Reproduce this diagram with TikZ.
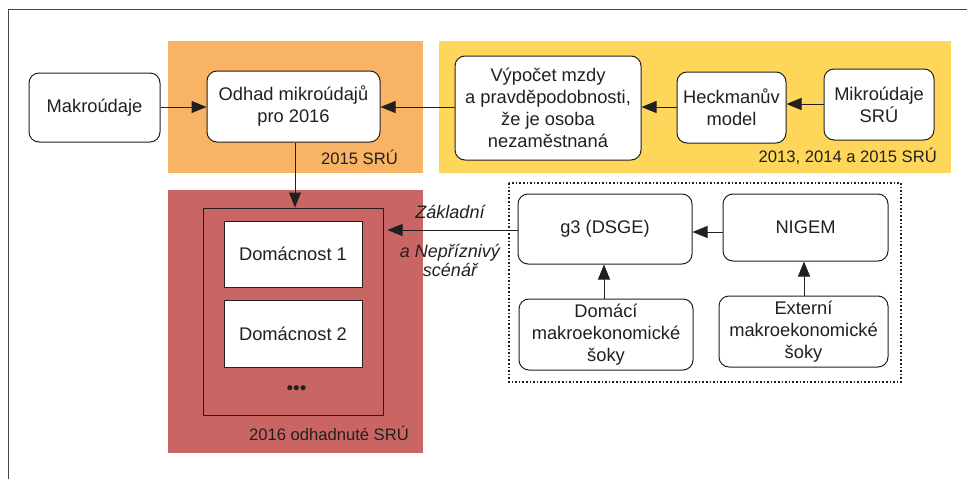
\documentclass[tikz,border=0pt]{standalone}
\usepackage{fontspec}
\setmainfont{Liberation Sans}
\usetikzlibrary{arrows.meta}
\definecolor{regorange}{RGB}{248,179,100}
\definecolor{regyellow}{RGB}{253,214,90}
\definecolor{regred}{RGB}{201,102,100}
\definecolor{lineclr}{RGB}{35,31,32}
\definecolor{frameclr}{RGB}{70,70,70}
\tikzset{
  x=1pt, y=-1pt,
  rbox/.style={draw=lineclr, line width=1pt, rounded corners=10pt, fill=white, align=center,
    inner sep=0pt, font=\fontsize{18.3}{22}\selectfont, text=lineclr},
  sbox/.style={draw=lineclr, line width=0.9pt, fill=white, align=center,
    inner sep=0pt, font=\fontsize{18.3}{22}\selectfont, text=lineclr},
  reglabel/.style={font=\fontsize{16.6}{20}\selectfont, text=lineclr, inner sep=0pt, anchor=east},
  conn/.style={draw=lineclr, line width=1pt, -{Triangle[length=15pt,width=12pt]}},
  scen/.style={font=\fontsize{18}{19.5}\selectfont\itshape, text=lineclr, inner sep=0pt, align=center},
}
\begin{document}
\begin{tikzpicture}
\useasboundingbox (0,0) rectangle (967,479);
% outer frame (partly visible)
\draw[frameclr, line width=1.8pt] (8.5,479) -- (8.5,9.5) -- (967,9.5);
% regions
\fill[regorange] (168,41) rectangle (423,173);
\fill[regyellow] (439,41) rectangle (951,173);
\fill[regred] (168,190) rectangle (423,453);
\node[reglabel] (l2015) at (398,157) {2015 SRÚ};
\node[reglabel] (l2013) at (937,156) {2013, 2014 a 2015 SRÚ};
\node[reglabel] (l2016) at (409,433) {2016 odhadnuté SRÚ};
% dotted group
\draw[lineclr, line width=1.6pt, dotted] (509,183) rectangle (901,382);
% boxes top row
\node[rbox, minimum width=131pt, minimum height=69pt] (mak) at (94.5,107.5) {Makroúdaje};
\node[rbox, minimum width=173pt, minimum height=71pt] (odh) at (293.5,106.5) {Odhad mikroúdajů\\pro 2016};
\node[rbox, minimum width=186pt, minimum height=104pt] (vyp) at (548,108) {Výpočet mzdy\\a pravděpodobnosti,\\že je osoba\\nezaměstnaná};
\node[rbox, minimum width=109pt, minimum height=71pt] (hec) at (731.5,107.5) {Heckmanův\\model};
\node[rbox, minimum width=110pt, minimum height=71pt] (mik) at (879,104.5) {Mikroúdaje\\SRÚ};
% household frame
\node[draw=lineclr, line width=1pt, minimum width=180pt, minimum height=207pt, inner sep=0pt] (inner) at (293,311.5) {};
\node[sbox, minimum width=138pt, minimum height=66pt] (d1) at (293,254) {Domácnost 1};
\node[sbox, minimum width=138pt, minimum height=67pt] (d2) at (293,333.5) {Domácnost 2};
\node[inner sep=0pt, text=lineclr, font=\fontsize{19}{19}\selectfont] (dots) at (296.5,390) {•••};
% model boxes
\node[rbox, minimum width=174pt, minimum height=70pt] (g3) at (605,229) {g3 (DSGE)};
\node[rbox, minimum width=165pt, minimum height=67pt] (nig) at (805.5,227.5) {NIGEM};
\node[rbox, minimum width=174pt, minimum height=71pt] (dom) at (606,334.5) {Domácí\\makroekonomické\\šoky};
\node[rbox, minimum width=169pt, minimum height=71pt] (ext) at (803.5,331.5) {Externí\\makroekonomické\\šoky};
% scenario labels
\node[scen] (zak) at (450,212) {Základní};
\node[scen] (nep) at (450,260.5) {a Nepříznivý\\scénář};
% connectors
\draw[conn] (mak.east |- 0,107) -- (odh.west |- 0,107);
\draw[conn] (vyp.west |- 0,107) -- (odh.east |- 0,107);
\draw[conn] (hec.west |- 0,107) -- (vyp.east |- 0,107);
\draw[conn] (mik.west |- 0,104) -- (hec.east |- 0,104);
\draw[conn] (odh.south -| 295,0) -- (inner.north -| 295,0);
\draw[conn, shorten >=4pt] (g3.west |- 0,230) -- (inner.east |- 0,230);
\draw[conn] (nig.west |- 0,232) -- (g3.east |- 0,232);
\draw[conn] (dom.north -| 604,0) -- (g3.south -| 604,0);
\draw[conn] (ext.north -| 804,0) -- (nig.south -| 804,0);
\end{tikzpicture}
\end{document}
